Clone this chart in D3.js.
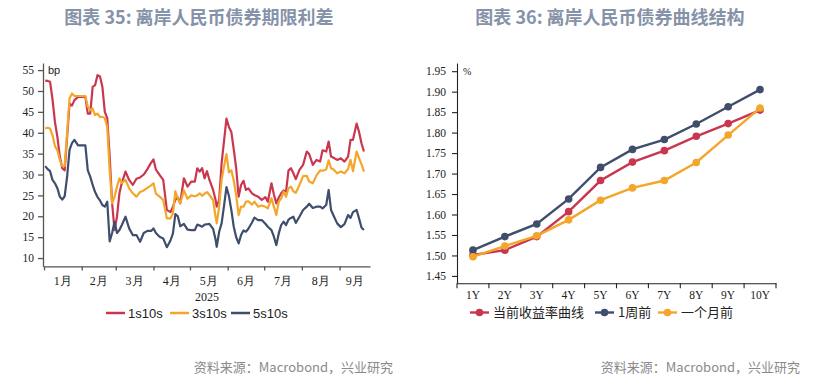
<!DOCTYPE html>
<html>
<head>
<meta charset="utf-8">
<script src="https://cdn.jsdelivr.net/npm/d3@7"></script>
<style>
  body { margin: 0; background: #fff; }
  svg { display: block; }
</style>
</head>
<body>
<svg id="chart" width="817" height="380"></svg>
<script>
// left chart: term spreads (bp), 2025
const dates = ['01-02','01-04','01-06','01-08','01-10','01-12','01-14','01-16','01-18','01-20','01-22','01-24','01-26','01-29',
  '02-01','02-04','02-06','02-08','02-10','02-12','02-14','02-16','02-18','02-20','02-22','02-24','02-26','02-28',
  '03-02','03-04','03-06','03-09','03-12','03-15','03-18','03-21','03-24','03-27','03-30',
  '04-01','04-03','04-06','04-09','04-12','04-15','04-17','04-19','04-21','04-23','04-26','04-29',
  '05-02','05-05','05-07','05-09','05-11','05-13','05-15','05-17','05-20','05-22','05-23','05-25','05-27','05-29','05-31',
  '06-02','06-04','06-06','06-08','06-10','06-12','06-14','06-16','06-18','06-21','06-23','06-26','06-29',
  '07-02','07-04','07-07','07-09','07-11','07-13','07-15','07-17','07-19','07-21','07-23','07-25','07-27','07-30',
  '08-02','08-05','08-07','08-10','08-13','08-16','08-18','08-21','08-23','08-25','08-27','08-30',
  '09-02','09-05','09-08','09-10','09-12','09-15','09-17','09-19','09-21'];
const s1s10s = [52.5,52.4,52.2,48,42.6,39,34.3,31.5,31,39,47,46.5,47.8,48.6,
  48.6,48.6,44.6,44.6,51,51.4,53.8,53.5,51,45,43.5,34.3,23.1,16.7,
  19.9,25.5,28,30.7,28.7,27.5,29,29.3,30,31.3,32.8,
  33.6,31.2,29.9,28.7,21.5,21,22.3,24,24.5,23.1,29.1,27.1,
  28.3,28.3,31.5,30.7,31.5,29.1,30.8,28.7,26.3,24,22.3,23.9,32.7,38,43.4,
  41.4,40.2,36,31.5,24.7,27.5,28.5,26.3,26.7,25.5,25.1,24.7,23.9,
  24.6,23.5,27.9,25.2,23.1,24.5,25.5,26.2,25.9,31,31.5,30.3,28.9,31.1,
  32.3,35.5,34.9,32.3,33.5,33.1,35.8,35.5,37.9,34.3,34,33.5,
  33.9,33.1,34.3,38.3,38.3,42.2,40.2,37.5,35.5];
const s3s10s = [41,41.2,41,39.4,36.8,35.8,33.5,32,32,40,48.2,49.4,48.8,48.8,
  48.8,48.8,46.2,45.4,45.8,44.2,44.6,43.8,43.8,43.5,41.4,31,23.1,24.7,
  27.1,29.1,28,28.7,26.7,25.5,24.7,25.8,26.2,26.8,27.4,
  27.9,25.4,24.7,23.9,19.5,19.5,20.7,26,24.2,23.1,26.2,24.2,
  25,24.8,25,25.5,24.9,25.4,25.8,25.1,23.9,20,18.3,22.3,28.7,32,34.9,
  30.5,31,28.5,25,20.3,22.3,22.3,23.5,23.6,22.8,23.5,22.3,22.6,
  22.3,21.9,24.3,22.3,20.3,23.5,24.3,25.9,24.7,26.7,27.1,26,25.6,27.5,
  29.6,29.7,28.3,27.9,29.8,31,30.9,31.2,33.4,31.5,31.2,30.3,
  30.7,30.3,31.3,33.5,30.8,35.5,33.9,32.5,30.7];
const s5s10s = [32,31.3,30.8,28.7,27.9,26.7,24.7,24,24.8,29.5,35.9,37.5,38.3,37,
  37,37,31,29.5,27.5,25.8,24.6,23.8,22.7,22.3,23.5,14,16,18.7,
  16,16.7,17.9,19.9,17.1,15.5,15.5,13.9,16,16.5,16.5,
  17.1,16,15.1,14.7,12.6,14.2,15.9,20.5,20,17.6,18.2,16.8,
  16.7,16.7,18,17.8,17.5,18,18.1,18.2,17,14.5,12.7,16.3,18.3,22.5,27,
  24.9,21.5,17.5,15,13.5,15.5,16.6,16.3,17,18.5,19.7,19.1,19.1,
  18.2,17.5,16.7,15.1,13.1,15.9,17.9,18.7,17.9,19.2,19.6,19.9,18.4,19.9,
  21.5,22.3,23,22,22.3,22.3,21.9,22.7,26.3,21.5,20.2,18.3,
  17.4,18.1,20.3,19.6,21,21.5,19.5,17.3,16.7];
const spreadNames = ['1s10s', '3s10s', '5s10s'];
const monthLabels = ['1月','2月','3月','4月','5月','6月','7月','8月','9月'];
const spreadTicks = [10,15,20,25,30,35,40,45,50,55];

// right chart: yield curve (%)
const tenors = ['1Y','2Y','3Y','4Y','5Y','6Y','7Y','8Y','9Y','10Y'];
const curveNow = [1.501,1.513,1.546,1.607,1.683,1.728,1.756,1.791,1.822,1.855];
const curveWeek = [1.513,1.546,1.577,1.638,1.715,1.759,1.783,1.821,1.863,1.905];
const curveMonth = [1.497,1.523,1.548,1.587,1.635,1.665,1.683,1.727,1.794,1.860];
const curveNames = ['当前收益率曲线', '1周前', '一个月前'];
const curveTicks = [1.45,1.50,1.55,1.60,1.65,1.70,1.75,1.80,1.85,1.90,1.95];

const RED = '#c9374f', ORANGE = '#f4a62a', NAVY = '#3f4e6c';
const SERIF = '"Liberation Serif", "Times New Roman", serif';
const SANS = '"Liberation Sans", Arial, sans-serif';
const CJK = '"Noto Sans CJK SC", sans-serif';
const TITLE_COLOR = '#8592a8';

const svg = d3.select('#chart');

// titles & sources
svg.append('text').attr('x', 199).attr('y', 24).attr('text-anchor', 'middle')
  .attr('font-family', CJK).attr('font-weight', 'bold').attr('font-size', 18)
  .attr('fill', TITLE_COLOR).text('图表 35: 离岸人民币债券期限利差');
svg.append('text').attr('x', 610).attr('y', 24).attr('text-anchor', 'middle')
  .attr('font-family', CJK).attr('font-weight', 'bold').attr('font-size', 18)
  .attr('fill', TITLE_COLOR).text('图表 36: 离岸人民币债券曲线结构');
[393, 800].forEach((x) => {
  svg.append('text').attr('x', x).attr('y', 372).attr('text-anchor', 'end')
    .attr('font-family', CJK).attr('font-size', 13).attr('fill', '#8a8a8a')
    .text('资料来源：Macrobond，兴业研究');
});

// ---------- left chart ----------
const parse = d3.timeParse('%Y-%m-%d');
const xDates = dates.map((d) => parse('2025-' + d));
const xL = d3.scaleTime().domain([parse('2025-01-01'), parse('2025-09-26')]).range([44, 370]);
const yL = d3.scaleLinear().domain([8, 56.7]).range([266.4, 63]);

const left = svg.append('g');
const monthStarts = d3.range(0, 9).map((m) => new Date(2025, m, 1));

const xAxisL = left.append('g').attr('transform', 'translate(0,266.4)')
  .call(d3.axisBottom(xL).tickValues(monthStarts).tickFormat('').tickSize(4).tickSizeOuter(0));
const yAxisL = left.append('g').attr('transform', 'translate(43,0)')
  .call(d3.axisLeft(yL).tickValues(spreadTicks).tickSize(5).tickPadding(4).tickSizeOuter(0));
[xAxisL, yAxisL].forEach((a) => {
  a.selectAll('path, line').attr('stroke', '#555').attr('stroke-width', 1.3);
  a.selectAll('text').attr('font-family', SERIF).attr('font-size', 11.5).attr('fill', '#222');
});

// month labels sit between the month ticks
monthLabels.forEach((lab, i) => {
  const a = xL(monthStarts[i]);
  const b = i < 8 ? xL(monthStarts[i + 1]) : 370;
  left.append('text').attr('x', (a + b) / 2).attr('y', 285).attr('text-anchor', 'middle')
    .attr('font-family', SERIF).attr('font-size', 12).attr('fill', '#222').text(lab);
});
left.append('text').attr('x', 207).attr('y', 301).attr('text-anchor', 'middle')
  .attr('font-family', SERIF).attr('font-size', 12).attr('fill', '#222').text('2025');
left.append('text').attr('x', 48).attr('y', 74)
  .attr('font-family', SANS).attr('font-size', 11).attr('fill', '#222').text('bp');

const lineL = d3.line().x((d) => xL(d[0])).y((d) => yL(d[1]));
const spreadSeries = [[s1s10s, RED], [s3s10s, ORANGE], [s5s10s, NAVY]];
spreadSeries.forEach(([vals, col]) => {
  left.append('path').datum(vals.map((v, i) => [xDates[i], v]))
    .attr('d', lineL).attr('fill', 'none').attr('stroke', col)
    .attr('stroke-width', 2.2).attr('stroke-linejoin', 'round');
});

// legend left
const legL = [106, 170, 231];
spreadNames.forEach((name, i) => {
  const x0 = legL[i];
  const col = spreadSeries[i][1];
  left.append('line').attr('x1', x0).attr('x2', x0 + 19).attr('y1', 313).attr('y2', 313)
    .attr('stroke', col).attr('stroke-width', 2.5);
  left.append('text').attr('x', x0 + 22).attr('y', 318)
    .attr('font-family', SANS).attr('font-size', 13).attr('fill', '#222').text(name);
});

// ---------- right chart ----------
const xR = d3.scaleBand().domain(tenors).range([457, 776]).padding(0);
const yR = d3.scaleLinear().domain([1.432, 1.97]).range([283.3, 63]);
const right = svg.append('g');

const xAxisR = right.append('g').attr('transform', 'translate(0,283.3)')
  .call(d3.axisBottom(xR).tickSize(0).tickPadding(8));
// ticks at band edges
const edges = tenors.map((t) => xR(t)).concat([776]);
xAxisR.selectAll('.edge').data(edges).join('line').attr('class', 'edge')
  .attr('x1', (d) => d).attr('x2', (d) => d).attr('y1', 0).attr('y2', 5);
const yAxisR = right.append('g').attr('transform', 'translate(457,0)')
  .call(d3.axisLeft(yR).tickValues(curveTicks).tickFormat(d3.format('.2f')).tickSize(5).tickPadding(6).tickSizeOuter(0));
[xAxisR, yAxisR].forEach((a) => {
  a.selectAll('path, line').attr('stroke', '#222').attr('stroke-width', 1.1);
  a.selectAll('text').attr('font-family', SERIF).attr('font-size', 11.5).attr('fill', '#222');
});
right.append('text').attr('x', 463).attr('y', 75)
  .attr('font-family', SERIF).attr('font-size', 10).attr('fill', '#222').text('%');

const curveSeries = [[curveNow, RED], [curveWeek, NAVY], [curveMonth, ORANGE]];
const lineR = d3.line().x((d) => xR(d[0]) + xR.bandwidth() / 2).y((d) => yR(d[1]));
curveSeries.forEach(([vals, col]) => {
  const pts = vals.map((v, i) => [tenors[i], v]);
  right.append('path').datum(pts).attr('d', lineR).attr('fill', 'none')
    .attr('stroke', col).attr('stroke-width', 2.4);
  right.selectAll(null).data(pts).join('circle')
    .attr('cx', (d) => xR(d[0]) + xR.bandwidth() / 2).attr('cy', (d) => yR(d[1]))
    .attr('r', 3.8).attr('fill', col);
});

// legend right
const legR = [470, 595, 658];
curveNames.forEach((name, i) => {
  const x0 = legR[i];
  const col = curveSeries[i][1];
  right.append('line').attr('x1', x0).attr('x2', x0 + 19).attr('y1', 312.5).attr('y2', 312.5)
    .attr('stroke', col).attr('stroke-width', 2.4);
  right.append('circle').attr('cx', x0 + 9.5).attr('cy', 312.5).attr('r', 3.8).attr('fill', col);
  right.append('text').attr('x', x0 + 23).attr('y', 317)
    .attr('font-family', CJK).attr('font-size', 13).attr('fill', '#222').text(name);
});
</script>
</body>
</html>
